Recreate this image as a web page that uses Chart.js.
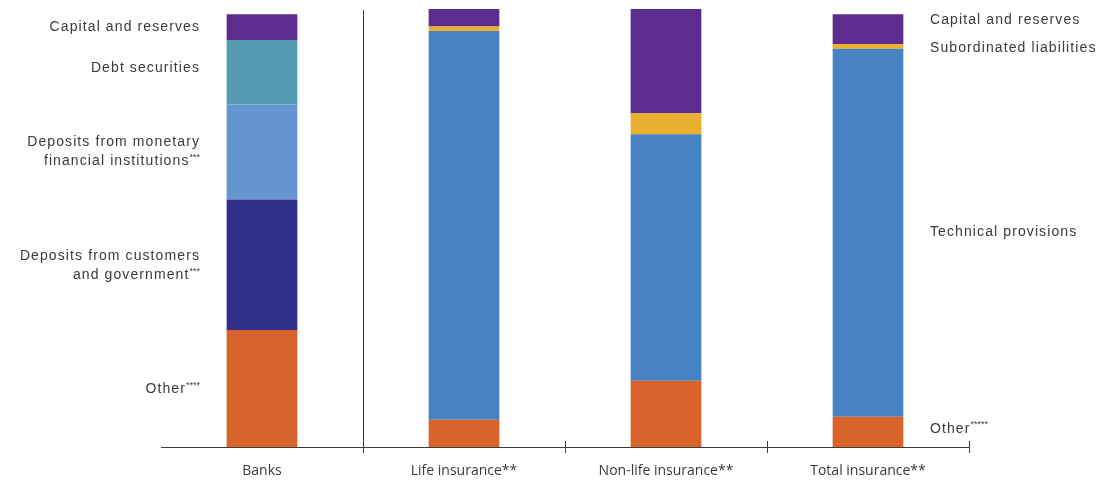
<!DOCTYPE html>
<html>
<head>
<meta charset="utf-8">
<script src="https://cdn.jsdelivr.net/npm/chart.js@4.4.1/dist/chart.umd.min.js"></script>
<style>
  html, body { margin: 0; padding: 0; background: #ffffff; }
  #wrap { width: 1106px; height: 481px; position: relative; }
</style>
</head>
<body>
<div id="wrap"><canvas id="c" width="1106" height="481"></canvas></div>
<script>
// Balance-sheet liability structure, % of total
const categories = ['Banks', 'Life insurance**', 'Non-life insurance**', 'Total insurance**'];

const otherLiabilities     = [26.7, 6.2, 15.1, 6.9];
const customerDeposits     = [29.8, null, null, null];
const mfiDeposits          = [21.7, null, null, null];
const debtSecurities       = [14.7, null, null, null];
const technicalProvisions  = [null, 88.8, 56.3, 84.0];
const subordinatedLiabs    = [null, 1.0, 4.8, 1.1];
const capitalReserves      = [5.9, 4.0, 23.8, 6.8];

const yMin = 0;
const yMax = 100;

// Segment captions: left side describes the bank bar, right side the total-insurance bar
const leftCaptions = [
  { ds: 6, lines: [['Capital and reserves', '']], dy: 0 },
  { ds: 3, lines: [['Debt securities', '']], dy: -4 },
  { ds: 2, lines: [['Deposits from monetary', ''], ['financial institutions', '***']], dy: 0 },
  { ds: 1, lines: [['Deposits from customers', ''], ['and government', '***']], dy: 1 },
  { ds: 0, lines: [['Other', '****']], dy: 1 }
];
const rightCaptions = [
  { ds: 6, text: 'Capital and reserves', sup: '', dy: -9 },
  { ds: 5, text: 'Subordinated liabilities', sup: '', dy: 2 },
  { ds: 4, text: 'Technical provisions', sup: '', dy: -1 },
  { ds: 0, text: 'Other', sup: '*****', dy: -3 }
];

const textFont = '"Liberation Sans", Arial, sans-serif';
const axisFont = '"Open Sans", "Liberation Sans", sans-serif';
const textColor = '#3a3a3a';
const lineColor = '#3c3c3c';

function drawWithSup(ctx, main, sup, x, y, align) {
  ctx.letterSpacing = '1.1px';
  ctx.font = '14px ' + textFont;
  const mw = ctx.measureText(main).width;
  ctx.letterSpacing = '0px';
  ctx.font = '9px ' + textFont;
  const sw = sup ? ctx.measureText(sup).width : 0;
  const startX = align === 'right' ? x - mw - sw : x;
  ctx.textAlign = 'left';
  ctx.textBaseline = 'middle';
  ctx.letterSpacing = '1.1px';
  ctx.font = '14px ' + textFont;
  ctx.fillText(main, startX, y);
  ctx.letterSpacing = '0px';
  if (sup) {
    ctx.font = '9px ' + textFont;
    ctx.fillText(sup, startX + mw, y - 4);
  }
}

function segCenter(chart, ds, idx) {
  const el = chart.getDatasetMeta(ds).data[idx];
  return (el.y + el.base) / 2;
}

const decorations = {
  id: 'decorations',
  afterDatasetsDraw(chart) {
    const ctx = chart.ctx;
    const area = chart.chartArea;
    const xs = chart.scales.x;
    const step = xs.getPixelForValue(1) - xs.getPixelForValue(0);
    const edge = i => xs.getPixelForValue(i) + step / 2;
    ctx.save();

    // baseline
    ctx.strokeStyle = lineColor;
    ctx.lineWidth = 1;
    ctx.beginPath();
    ctx.moveTo(area.left, Math.round(area.bottom) + 0.5);
    ctx.lineTo(area.right, Math.round(area.bottom) + 0.5);
    ctx.stroke();

    // separator between banks and insurers
    const sx = Math.round(edge(0)) + 0.5;
    ctx.beginPath();
    ctx.moveTo(sx, area.top + 1);
    ctx.lineTo(sx, area.bottom + 6);
    ctx.stroke();

    // category ticks
    for (let i = 1; i < categories.length; i++) {
      const tx = Math.round(edge(i)) + 0.5;
      ctx.beginPath();
      ctx.moveTo(tx, area.bottom - 6);
      ctx.lineTo(tx, area.bottom + 6);
      ctx.stroke();
    }

    // category labels
    ctx.fillStyle = textColor;
    ctx.font = '14px ' + axisFont;
    ctx.textAlign = 'center';
    ctx.textBaseline = 'middle';
    categories.forEach((c, i) => {
      ctx.fillText(c, xs.getPixelForValue(i), area.bottom + 24);
    });

    // left captions for the bank bar
    const leftX = 200;
    leftCaptions.forEach(cap => {
      const cy = segCenter(chart, cap.ds, 0) + cap.dy;
      const n = cap.lines.length;
      cap.lines.forEach((ln, k) => {
        const y = cy + (k - (n - 1) / 2) * 19;
        drawWithSup(ctx, ln[0], ln[1], leftX, y, 'right');
      });
    });

    // right captions for the total-insurance bar
    const rightX = 930;
    rightCaptions.forEach(cap => {
      const cy = segCenter(chart, cap.ds, 3) + cap.dy;
      drawWithSup(ctx, cap.text, cap.sup, rightX, cy, 'left');
    });

    ctx.restore();
  }
};

const seriesDefs = [
  { label: 'Other', data: otherLiabilities, color: '#d8642c' },
  { label: 'Deposits from customers and government', data: customerDeposits, color: '#2f318b' },
  { label: 'Deposits from monetary financial institutions', data: mfiDeposits, color: '#6595d0' },
  { label: 'Debt securities', data: debtSecurities, color: '#5499b1' },
  { label: 'Technical provisions', data: technicalProvisions, color: '#4782c3' },
  { label: 'Subordinated liabilities', data: subordinatedLiabs, color: '#ebb02f' },
  { label: 'Capital and reserves', data: capitalReserves, color: '#5c2d8e' }
];

new Chart(document.getElementById('c'), {
  type: 'bar',
  data: {
    labels: categories,
    datasets: seriesDefs.map(s => ({
      label: s.label,
      data: s.data,
      backgroundColor: s.color,
      borderWidth: 0,
      categoryPercentage: 1,
      barPercentage: 0.35
    }))
  },
  options: {
    responsive: false,
    animation: false,
    layout: { padding: { left: 161, right: 137, top: 9, bottom: 34 } },
    plugins: { legend: { display: false }, tooltip: { enabled: false } },
    scales: {
      x: { stacked: true, display: false },
      y: { stacked: true, display: false, min: yMin, max: yMax }
    }
  },
  plugins: [decorations]
});
</script>
</body>
</html>
